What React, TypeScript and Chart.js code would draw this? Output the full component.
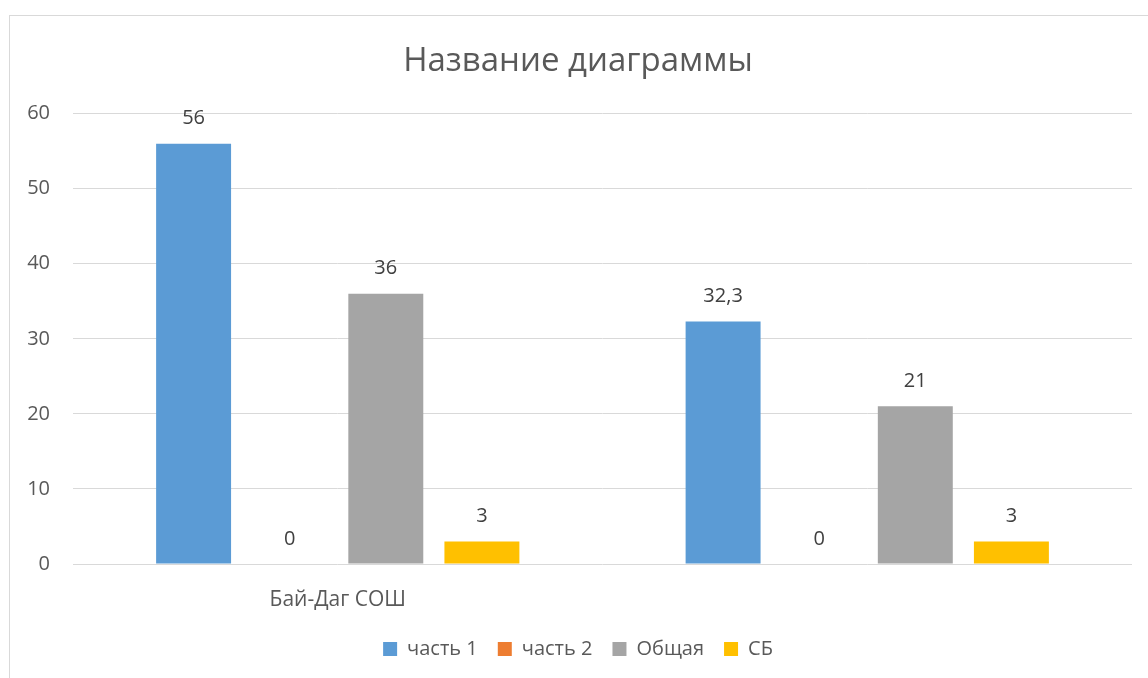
import React, { useEffect, useRef } from "react";
import { Chart, registerables } from "chart.js";

Chart.register(...registerables);

const categories = ["Бай-Даг СОШ", ""];
const seriesNames = ["часть 1", "часть 2", "Общая", "СБ"];
const part1 = [56, 32.3];
const part2 = [0, 0];
const total = [36, 21];
const sb = [3, 3];
const colors = ["#5B9BD5", "#ED7D31", "#A5A5A5", "#FFC000"];
const yTicks = [0, 10, 20, 30, 40, 50, 60];

const FONT = "'Open Sans', sans-serif";

const dataLabels = {
  id: "dataLabels",
  afterDatasetsDraw(chart: any) {
    const ctx = chart.ctx;
    ctx.save();
    ctx.font = `20px ${FONT}`;
    ctx.fillStyle = "#404040";
    ctx.textAlign = "center";
    ctx.textBaseline = "middle";
    chart.data.datasets.forEach((ds: any, i: number) => {
      const meta = chart.getDatasetMeta(i);
      meta.data.forEach((el: any, j: number) => {
        const v = ds.data[j];
        const txt = String(v).replace(".", ",");
        ctx.fillText(txt, el.x, el.y - 25);
      });
    });
    ctx.restore();
  },
};

export default function App() {
  const ref = useRef<HTMLCanvasElement>(null);
  useEffect(() => {
    const seriesData = [part1, part2, total, sb];
    const chart = new Chart(ref.current!, {
      type: "bar",
      data: {
        labels: categories,
        datasets: seriesNames.map((n, i) => ({
          label: n,
          data: seriesData[i],
          backgroundColor: colors[i],
          borderWidth: 0,
          categoryPercentage: 0.726,
          barPercentage: 0.78,
        })),
      },
      options: {
        animation: false,
        responsive: false,
        maintainAspectRatio: false,
        layout: { padding: { left: 14, right: 16, top: 0, bottom: 9 } },
        plugins: {
          title: {
            display: true,
            text: "Название диаграммы",
            color: "#595959",
            font: { family: FONT, size: 33, weight: "normal" },
            padding: { top: 26, bottom: 32 },
          },
          legend: {
            position: "bottom",
            labels: {
              color: "#595959",
              font: { family: FONT, size: 20 },
              boxWidth: 14,
              boxHeight: 14,
              padding: 20,
            },
          },
          tooltip: { enabled: false },
        },
        scales: {
          x: {
            grid: { display: false },
            border: { display: false },
            ticks: {
              color: "#595959",
              font: { family: FONT, size: 21 },
              padding: 15,
            },
            afterFit: (axis: any) => {
              axis.height = 55;
            },
          },
          y: {
            min: 0,
            max: 60,
            afterBuildTicks: (axis: any) => {
              axis.ticks = yTicks.map((v) => ({ value: v }));
            },
            afterFit: (axis: any) => {
              axis.width = 49;
            },
            grid: { color: "#D9D9D9", lineWidth: 1, drawTicks: false },
            border: { display: false },
            ticks: {
              color: "#595959",
              font: { family: FONT, size: 20 },
              padding: 23,
            },
          },
        },
      },
      plugins: [dataLabels],
    });
    return () => chart.destroy();
  }, []);
  return (
    <div
      style={{
        position: "fixed",
        left: 9,
        top: 15,
        right: 0,
        bottom: 0,
        borderLeft: "1px solid #D9D9D9",
        borderTop: "1px solid #D9D9D9",
        background: "#fff",
      }}
    >
      <canvas ref={ref} width={1138} height={662} style={{ display: "block" }} />
    </div>
  );
}
